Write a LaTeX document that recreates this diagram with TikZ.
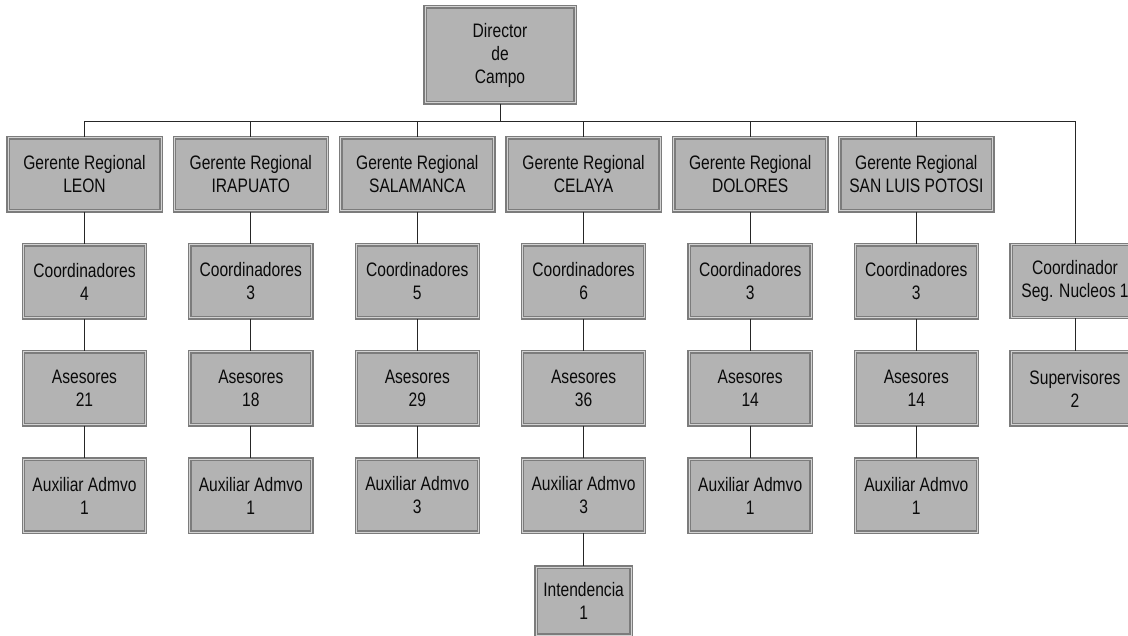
\documentclass[tikz,border=0pt]{standalone}
\usepackage{fontspec}
\setmainfont{Liberation Sans}[FakeStretch=0.8]
\definecolor{boxfill}{HTML}{B3B3B3}
\definecolor{boxedge}{HTML}{7C7C7C}
\definecolor{boxlite}{HTML}{D2D2D2}
\definecolor{inktext}{HTML}{0A0A0A}
\begin{document}
\begin{tikzpicture}[x=1pt,y=-1pt,
  orgbox/.style={rectangle, fill=boxfill, draw=boxedge, line width=1.3pt,
    double=boxlite, double distance=1pt, inner sep=0pt, align=center,
    text=inktext, font=\fontsize{19.5}{23}\selectfont,
    minimum width=122pt, minimum height=73pt},
  widebox/.style={orgbox, minimum width=153pt},
  link/.style={draw=black!85, line width=1pt}]
\useasboundingbox (0,0) rectangle (1128,636);
\clip (0,0) rectangle (1128,636);

% top
\node[orgbox, minimum width=150pt, minimum height=96pt] (dir) at (500,55) {Director\\de\\Campo};
\coordinate (bus) at (0,121.5);

% regional managers
\node[widebox] (g1) at (84.5,174.5) {Gerente Regional\\LEON};
\node[widebox] (g2) at (250.8,174.5) {Gerente Regional\\IRAPUATO};
\node[widebox] (g3) at (417.3,174.5) {Gerente Regional\\SALAMANCA};
\node[widebox] (g4) at (583.6,174.5) {Gerente Regional\\CELAYA};
\node[widebox] (g5) at (750.2,174.5) {Gerente Regional\\DOLORES};
\node[widebox] (g6) at (916.3,174.5) {Gerente Regional\\SAN LUIS POTOSI};

% coordinators
\node[orgbox] (c1) at (84.5,281.5) {Coordinadores\\4};
\node[orgbox] (c2) at (250.8,281.5) {Coordinadores\\3};
\node[orgbox] (c3) at (417.3,281.5) {Coordinadores\\5};
\node[orgbox] (c4) at (583.6,281.5) {Coordinadores\\6};
\node[orgbox] (c5) at (750.2,281.5) {Coordinadores\\3};
\node[orgbox] (c6) at (916.3,281.5) {Coordinadores\\3};
\node[orgbox, minimum width=128pt] (c7) at (1075,281) {Coordinador\\Seg. Nucleos 1};

% advisers
\node[orgbox] (a1) at (84.5,388.5) {Asesores\\21};
\node[orgbox] (a2) at (250.8,388.5) {Asesores\\18};
\node[orgbox] (a3) at (417.3,388.5) {Asesores\\29};
\node[orgbox] (a4) at (583.6,388.5) {Asesores\\36};
\node[orgbox] (a5) at (750.2,388.5) {Asesores\\14};
\node[orgbox] (a6) at (916.3,388.5) {Asesores\\14};
\node[orgbox, minimum width=128pt] (s7) at (1075,388.5) {Supervisores\\2};

% administrative assistants
\node[orgbox] (x1) at (84.5,495.5) {Auxiliar Admvo\\1};
\node[orgbox] (x2) at (250.8,495.5) {Auxiliar Admvo\\1};
\node[orgbox] (x3) at (417.3,495.5) {Auxiliar Admvo\\3};
\node[orgbox] (x4) at (583.6,495.5) {Auxiliar Admvo\\3};
\node[orgbox] (x5) at (750.2,495.5) {Auxiliar Admvo\\1};
\node[orgbox] (x6) at (916.3,495.5) {Auxiliar Admvo\\1};

% facilities
\node[orgbox, minimum width=95pt, minimum height=68pt] (int) at (583.6,601) {Intendencia\\1};

% connectors
\draw[link] (dir.south) -- (dir.south |- bus);
\draw[link] (g1.north |- bus) -- (c7.north |- bus);
\foreach \n in {g1,g2,g3,g4,g5,g6,c7}
  \draw[link] (\n.north |- bus) -- (\n.north);
\foreach \i in {1,...,6} {
  \draw[link] (g\i.south) -- (c\i.north);
  \draw[link] (c\i.south) -- (a\i.north);
  \draw[link] (a\i.south) -- (x\i.north);
}
\draw[link] (c7.south) -- (s7.north);
\draw[link] (x4.south) -- (int.north);
\end{tikzpicture}
\end{document}
